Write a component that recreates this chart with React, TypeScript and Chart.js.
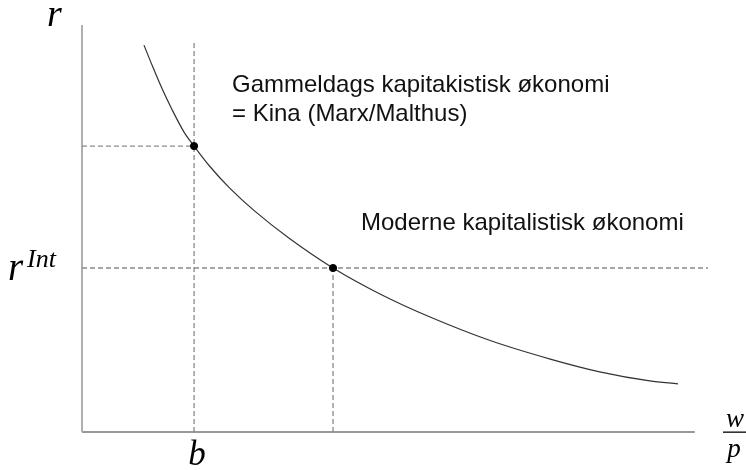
import React, { useEffect, useRef } from "react";
import { Chart, registerables } from "chart.js";

Chart.register(...registerables);

// Curve r(w/p) (abstract units 0..10)
const wageValues = [0.99, 1.12, 1.28, 1.44, 1.63, 1.79, 2.04, 2.36, 2.76, 3.32, 4.01, 4.76, 5.56, 6.52, 7.48, 8.27, 9.07, 9.52];
const rateValues = [9.39, 8.9, 8.33, 7.82, 7.28, 6.94, 6.45, 5.92, 5.36, 4.69, 3.98, 3.35, 2.79, 2.22, 1.77, 1.46, 1.24, 1.17];

// Marked points
const bWage = 1.79;
const bRate = 6.94;
const intWage = 4.01;
const intRate = 3.98;

// Axis extents
const xMax = 10;
const yMax = 10;
const yAxisTop = 9.88;
const xAxisEnd = 9.79;
const bDashTop = 9.44;

// Texts
const yAxisLabel = "r";
const xAxisNum = "w";
const xAxisDen = "p";
const bLabel = "b";
const intBase = "r";
const intSup = "Int";
const oldEconomyLines = ["Gammeldags kapitakistisk økonomi", "= Kina (Marx/Malthus)"];
const modernEconomy = "Moderne kapitalistisk økonomi";

const serifItalic = (s: number) => `italic ${s}px "Liberation Serif", "DejaVu Serif", serif`;
const sans = (s: number) => `${s}px "Liberation Sans", Arial, sans-serif`;

const labelsPlugin = {
  id: "labels",
  afterDraw(chart: any) {
    const { ctx, scales, chartArea } = chart;
    const xs = scales.x;
    const ys = scales.y;
    ctx.save();
    ctx.fillStyle = "#000";
    ctx.textBaseline = "alphabetic";

    // y axis label r
    ctx.font = serifItalic(38);
    ctx.textAlign = "left";
    ctx.fillText(yAxisLabel, chartArea.left - 35, 26);

    // r^Int
    const yInt = ys.getPixelForValue(intRate);
    ctx.font = serifItalic(39);
    ctx.fillText(intBase, 8, yInt + 12);
    ctx.font = serifItalic(26);
    ctx.fillText(intSup, 27, yInt - 1);

    // b
    ctx.font = serifItalic(35);
    ctx.textAlign = "center";
    ctx.fillText(bLabel, xs.getPixelForValue(bWage) + 3, chartArea.bottom + 33);

    // w / p
    const fx = 735;
    ctx.font = serifItalic(27);
    ctx.fillText(xAxisNum, fx, chartArea.bottom - 5);
    ctx.fillText(xAxisDen, fx - 1, chartArea.bottom + 25);
    ctx.fillRect(723, chartArea.bottom - 0.5, 25, 1.3);

    // annotations
    ctx.font = sans(24);
    ctx.textAlign = "left";
    ctx.fillStyle = "#111";
    ctx.fillText(oldEconomyLines[0], 232, 92);
    ctx.fillText(oldEconomyLines[1], 232, 121);
    ctx.fillText(modernEconomy, 361, 230);
    ctx.restore();
  },
};

export default function App() {
  const ref = useRef<HTMLCanvasElement>(null);

  useEffect(() => {
    if (!ref.current) return;
    const dashed = {
      borderColor: "#8a8a8a",
      borderWidth: 1.3,
      borderDash: [5, 3],
      pointRadius: 0,
      showLine: true,
      clip: false as any,
    };
    const chart = new Chart(ref.current, {
      type: "scatter",
      data: {
        datasets: [
          {
            data: [{ x: bWage, y: bRate }, { x: intWage, y: intRate }],
            pointBackgroundColor: "#000",
            pointBorderColor: "#000",
            pointBorderWidth: 1,
            pointRadius: 3.6,
            showLine: false,
            clip: false as any,
          },
          {
            data: wageValues.map((x, i) => ({ x, y: rateValues[i] })),
            borderColor: "#333",
            borderWidth: 1.2,
            pointRadius: 0,
            showLine: true,
            cubicInterpolationMode: "monotone",
            clip: false as any,
          },
          {
            data: [{ x: 0, y: bRate }, { x: bWage, y: bRate }],
            ...dashed,
          },
          {
            data: [{ x: bWage, y: 0 }, { x: bWage, y: bDashTop }],
            ...dashed,
          },
          {
            data: [{ x: 0, y: intRate }, { x: xMax, y: intRate }],
            ...dashed,
          },
          {
            data: [{ x: intWage, y: 0 }, { x: intWage, y: intRate }],
            ...dashed,
          },
          {
            data: [{ x: 0, y: 0 }, { x: 0, y: yAxisTop }],
            borderColor: "#b0b0b0",
            borderWidth: 2,
            pointRadius: 0,
            showLine: true,
            clip: false as any,
          },
          {
            data: [{ x: 0, y: 0 }, { x: xAxisEnd, y: 0 }],
            borderColor: "#777",
            borderWidth: 1.5,
            pointRadius: 0,
            showLine: true,
            clip: false as any,
          },
        ] as any,
      },
      options: {
        responsive: false,
        animation: false,
        layout: { padding: { left: 82, right: 38, top: 20, bottom: 38 } },
        scales: {
          x: { type: "linear", min: 0, max: xMax, display: false },
          y: { type: "linear", min: 0, max: yMax, display: false },
        },
        plugins: {
          legend: { display: false },
          tooltip: { enabled: false },
        },
      },
      plugins: [labelsPlugin],
    });
    return () => chart.destroy();
  }, []);

  return (
    <div style={{ position: "fixed", left: 0, top: 0, width: 746, height: 470, background: "#fff" }}>
      <canvas ref={ref} width={746} height={470} />
    </div>
  );
}
